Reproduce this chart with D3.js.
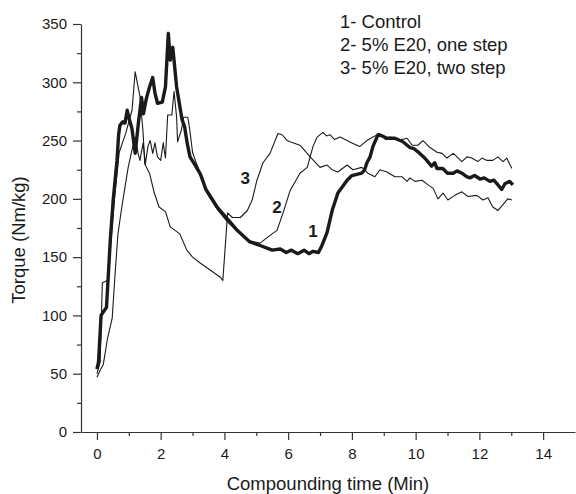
<!DOCTYPE html>
<html>
<head>
<meta charset="utf-8">
<script src="https://cdn.jsdelivr.net/npm/d3@7"></script>
<style>
  body { margin: 0; background: #fff; }
  text { font-family: "Liberation Sans", Arial, Helvetica, sans-serif; fill: #1a1a1a; }
  .axis path, .axis line { stroke: #333; stroke-width: 1.2; }
</style>
</head>
<body>
<div id="chart"></div>
<script>
const [svgW, svgH] = [576, 494];

// time (min) and torque (Nm/kg)
const controlT = [0, 0.05, 0.13, 0.3, 0.42, 0.51, 0.63, 0.68, 0.72, 0.8, 0.88, 0.95, 1.0, 1.1, 1.2, 1.3, 1.4, 1.46, 1.55, 1.65, 1.75, 1.82, 1.9, 2.05, 2.15, 2.24, 2.3, 2.38, 2.5, 2.67, 2.75, 2.83, 2.92, 3.1, 3.25, 3.42, 3.77, 4.12, 4.4, 4.8, 5.12, 5.5, 5.75, 5.94, 6.1, 6.3, 6.5, 6.65, 6.78, 6.95, 7.06, 7.22, 7.38, 7.56, 7.85, 8.0, 8.31, 8.4, 8.47, 8.57, 8.66, 8.82, 8.95, 9.1, 9.35, 9.6, 9.82, 9.95, 10.13, 10.25, 10.35, 10.5, 10.6, 10.67, 10.85, 11.0, 11.18, 11.3, 11.45, 11.6, 11.7, 11.85, 12.02, 12.15, 12.33, 12.45, 12.55, 12.7, 12.8, 12.95, 13.05];
const controlV = [54, 60, 100, 107, 165, 199, 233, 255, 263, 266, 265, 276, 270, 260, 239, 265, 287, 273, 286, 296, 304, 291, 282, 283, 296, 342, 319, 330, 296, 268, 262, 248, 236, 228, 221, 208, 193, 182, 173, 163, 160, 156, 157, 154, 156, 153, 156, 153, 155, 154, 160, 171, 190, 205, 216, 220, 222, 225, 231, 236, 245, 255, 254, 252, 252, 249, 244, 243, 239, 236, 233, 228, 231, 226, 226, 222, 222, 224, 222, 219, 218, 220, 217, 218, 215, 216, 213, 208, 213, 215, 212];

const oneStepT = [0, 0.1, 0.2, 0.33, 0.48, 0.57, 0.66, 0.78, 0.88, 0.98, 1.1, 1.2, 1.3, 1.35, 1.45, 1.52, 1.6, 1.67, 1.75, 1.82, 1.9, 2.0, 2.08, 2.15, 2.22, 2.35, 2.42, 2.5, 2.53, 2.65, 2.72, 2.85, 2.9, 3.0, 3.1, 3.3, 3.5, 3.8, 4.1, 4.5, 4.8, 5.12, 5.4, 5.65, 5.84, 6.06, 6.37, 6.6, 6.69, 6.78, 6.91, 7.09, 7.2, 7.31, 7.45, 7.63, 7.85, 8.0, 8.25, 8.47, 8.66, 8.88, 9.05, 9.19, 9.45, 9.73, 9.89, 10.07, 10.23, 10.45, 10.67, 10.83, 10.98, 11.18, 11.3, 11.45, 11.61, 11.76, 11.95, 12.08, 12.24, 12.42, 12.58, 12.74, 12.86, 13.02];
const oneStepV = [47, 53, 58, 80, 98, 136, 170, 193, 210, 227, 242, 253, 238, 233, 248, 230, 245, 250, 239, 248, 236, 233, 248, 235, 272, 272, 292, 270, 249, 259, 270, 270, 262, 240, 232, 218, 203, 190, 180, 170, 164, 162, 168, 173, 188, 207, 222, 227, 236, 245, 253, 257, 254, 255, 251, 253, 250, 248, 245, 250, 253, 256, 251, 253, 250, 252, 246, 246, 250, 244, 240, 239, 235, 239, 236, 232, 236, 235, 232, 235, 233, 233, 236, 232, 235, 226];

const twoStepT = [0, 0.1, 0.17, 0.33, 0.4, 0.55, 0.7, 0.8, 0.9, 1.1, 1.2, 1.35, 1.45, 1.5, 1.65, 1.8, 1.95, 2.15, 2.3, 2.6, 2.82, 3.0, 3.24, 3.55, 3.86, 3.95, 4.1, 4.25, 4.5, 4.72, 4.87, 5.02, 5.21, 5.43, 5.68, 5.81, 5.97, 6.06, 6.37, 6.69, 7.0, 7.22, 7.38, 7.56, 7.85, 8.03, 8.31, 8.5, 8.72, 8.88, 9.1, 9.35, 9.57, 9.73, 9.82, 9.98, 10.2, 10.39, 10.55, 10.7, 10.86, 11.01, 11.23, 11.45, 11.64, 11.92, 12.11, 12.27, 12.42, 12.58, 12.74, 12.89, 13.02];
const twoStepV = [50, 60, 128, 130, 150, 200, 240, 248, 256, 276, 309, 288, 256, 230, 222, 205, 193, 189, 176, 170, 156, 150, 145, 139, 133, 130, 188, 184, 184, 190, 199, 216, 231, 239, 256, 255, 250, 249, 246, 236, 227, 229, 225, 223, 229, 225, 227, 222, 219, 225, 223, 219, 219, 215, 218, 215, 216, 212, 209, 200, 205, 199, 203, 206, 202, 203, 199, 201, 193, 190, 195, 200, 199];

const legendLabels = ["1- Control", "2- 5% E20, one step", "3- 5% E20, two step"];
const curveTags = ["1", "2", "3"];
const xTicks = [0, 2, 4, 6, 8, 10, 12, 14];
const yTicks = [0, 50, 100, 150, 200, 250, 300, 350];

const margin = {left: 81, right: 1, top: 24, bottom: 62};

const x = d3.scaleLinear().domain([-0.5, 15]).range([margin.left, svgW - margin.right]);
const y = d3.scaleLinear().domain([0, 350]).range([svgH - margin.bottom, margin.top]);

const svg = d3.select("#chart").append("svg").attr("width", svgW).attr("height", svgH);

// axes
const xMinor = d3.range(-0, 15, 1).filter(d => d % 2 !== 0);
const yMinor = d3.range(25, 350, 50);

svg.append("g").attr("class", "axis")
    .attr("transform", `translate(0,${y(0)})`)
    .call(d3.axisBottom(x).tickValues(xMinor).tickSize(4).tickFormat(""))
    .call(g => g.select(".domain").remove());
svg.append("g").attr("class", "axis")
    .attr("transform", `translate(${margin.left},0)`)
    .call(d3.axisLeft(y).tickValues(yMinor).tickSize(4).tickFormat(""))
    .call(g => g.select(".domain").remove());

const xAxis = svg.append("g").attr("class", "axis")
    .attr("transform", `translate(0,${y(0)})`)
    .call(d3.axisBottom(x).tickValues(xTicks).tickSize(8).tickSizeOuter(0).tickPadding(8));
const yAxis = svg.append("g").attr("class", "axis")
    .attr("transform", `translate(${margin.left},0)`)
    .call(d3.axisLeft(y).tickValues(yTicks).tickSize(8).tickSizeOuter(0).tickPadding(6));

xAxis.selectAll("text").attr("font-size", 15).style("font-family", "'Liberation Sans', Arial, sans-serif");
yAxis.selectAll("text").attr("font-size", 15).style("font-family", "'Liberation Sans', Arial, sans-serif");

// axis titles
svg.append("text").attr("x", 328).attr("y", 490).attr("text-anchor", "middle")
    .attr("font-size", 18.5).text("Compounding time (Min)");
svg.append("text").attr("transform", "translate(25,240) rotate(-90)")
    .attr("text-anchor", "middle").attr("font-size", 18.5).text("Torque (Nm/kg)");

// curves
const line = d3.line().x(d => x(d[0])).y(d => y(d[1]));
const series = [
    {t: twoStepT, v: twoStepV, w: 1.1},
    {t: oneStepT, v: oneStepV, w: 1.1},
    {t: controlT, v: controlV, w: 3.4}
];
svg.append("g").selectAll("path").data(series).join("path")
    .attr("d", s => line(d3.zip(s.t, s.v)))
    .attr("fill", "none")
    .attr("stroke", "#1a1a1a")
    .attr("stroke-width", s => s.w)
    .attr("stroke-linejoin", "round");

// curve numbers
const tagPos = [[6.78, 167], [5.65, 188], [4.65, 213]];
svg.append("g").selectAll("text").data(curveTags).join("text")
    .attr("x", (d, i) => x(tagPos[i][0]))
    .attr("y", (d, i) => y(tagPos[i][1]))
    .attr("text-anchor", "middle")
    .attr("font-size", 17).attr("font-weight", "bold")
    .text(d => d);

// legend
svg.append("g").selectAll("text").data(legendLabels).join("text")
    .attr("x", 340)
    .attr("y", (d, i) => 28 + i * 23)
    .attr("font-size", 18.5)
    .text(d => d);
</script>
</body>
</html>
